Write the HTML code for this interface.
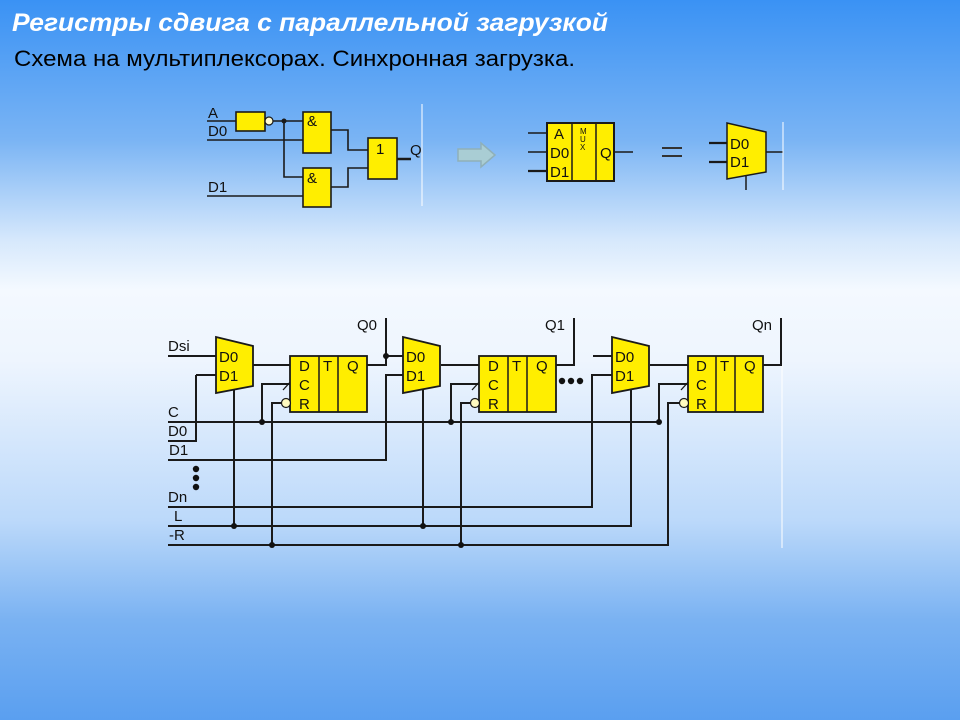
<!DOCTYPE html>
<html><head><meta charset="utf-8"><style>
body{margin:0;width:960px;height:720px;overflow:hidden;background:linear-gradient(to bottom,#3a92f4 0px,#7ab4f4 140px,#d6e8fc 240px,#f4f9ff 290px,#eef5fe 360px,#bcd9fa 520px,#7ab2f2 620px,#5a9ff0 720px);font-family:"Liberation Sans",sans-serif;}
svg{position:absolute;left:0;top:0}
</style></head><body>
<svg width="960" height="720" viewBox="0 0 960 720" font-family="Liberation Sans, sans-serif">
<text x="12" y="31" fill="#fff" font-size="25" font-weight="bold" font-style="italic" textLength="596" lengthAdjust="spacingAndGlyphs">Регистры сдвига с параллельной загрузкой</text>
<text x="14" y="66" fill="#000" font-size="22" textLength="561" lengthAdjust="spacingAndGlyphs">Схема на мультиплексорах. Синхронная загрузка.</text>

<g stroke="#1a1a1a" stroke-width="1.6" fill="none">
<path d="M207 121H236 M273 121H303 M284 121V177H303 M207 140H303 M207 196H303"/>
<path d="M331 130H348V150H368 M331 187H348V168H368"/>
<path d="M397 159H411" stroke-width="2.5"/>
</g>
<g fill="#ffee00" stroke="#1a1a1a" stroke-width="1.6">
<rect x="236" y="112" width="29" height="19"/>
<rect x="303" y="112" width="28" height="41"/>
<rect x="303" y="168" width="28" height="39"/>
<rect x="368" y="138" width="29" height="41"/>
</g>
<circle cx="269" cy="121" r="4" fill="#fffbd0" stroke="#1a1a1a" stroke-width="1.2"/>
<circle cx="284" cy="121" r="2.5" fill="#1a1a1a"/>
<g font-size="15" fill="#111">
<text x="208" y="118">A</text><text x="208" y="136">D0</text><text x="208" y="192">D1</text>
<text x="307" y="126">&amp;</text><text x="307" y="183">&amp;</text>
<text x="376" y="154">1</text><text x="410" y="155">Q</text>
</g>
<line x1="422" y1="104" x2="422" y2="206" stroke="#fff" stroke-width="1"/>

<path d="M458 149H481V143L495 155L481 167V161H458Z" fill="#a9cdd4" stroke="#8fb0b8" stroke-width="1.5"/>

<g stroke="#1a1a1a" stroke-width="1.5">
<path d="M528 133H547 M528 152H547 M614 152H633"/><path d="M528 171H547" stroke-width="2.2"/>
</g>
<rect x="547" y="123" width="67" height="58" fill="#ffee00" stroke="#1a1a1a" stroke-width="2"/>
<path d="M572 123V181 M596 123V181" stroke="#1a1a1a" stroke-width="1.5"/>
<g font-size="15" fill="#111">
<text x="554" y="139">A</text><text x="550" y="158">D0</text><text x="550" y="177">D1</text><text x="600" y="158">Q</text>
</g>
<g font-size="8" fill="#111"><text x="580" y="134">M</text><text x="580" y="142">U</text><text x="580" y="150">X</text></g>
<path d="M662 148H682 M662 156H682" stroke="#333" stroke-width="2"/>
<g stroke="#1a1a1a" stroke-width="1.5"><path d="M709 143H727 M709 162H727" stroke-width="2.2"/><path d="M766 152H783 M746 176V190"/></g>
<polygon points="727,123 766,132 766,172 727,179" fill="#ffee00" stroke="#1a1a1a" stroke-width="1.5"/>
<g font-size="15" fill="#111"><text x="730" y="149">D0</text><text x="730" y="167">D1</text></g>
<line x1="783" y1="122" x2="783" y2="190" stroke="#fff" stroke-width="1"/>

<line x1="782" y1="365" x2="782" y2="548" stroke="#fff" stroke-width="1"/>
<g stroke="#1a1a1a" stroke-width="2" fill="none">
<path d="M168 356H216 M196 375H216 M196 375V441H168"/>
<path d="M168 422H659 M168 460H386V375H403 M168 507H592V375H612 M168 526H631V390 M168 545H668V403H682"/>
<path d="M234 390V526 M423 390V526"/>
<path d="M262 422V384H290 M451 422V384H479 M659 422V384H688"/>
<path d="M272 545V403H282 M461 545V403H471"/>
<path d="M253 365H290 M441 365H479 M650 365H688"/>
<path d="M367 365H386V318 M386 356H403 M556 365H574V318 M763 365H781V318 M593 356H612"/>
<path d="M283 390L293 379 M472 390L482 379 M681 390L691 379" stroke-width="1.3"/>
</g>
<g fill="#ffee00" stroke="#1a1a1a" stroke-width="1.8">
<polygon points="216,337 253,346 253,386 216,393"/>
<polygon points="403,337 440,346 440,386 403,393"/>
<polygon points="612,337 649,346 649,386 612,393"/>
<rect x="290" y="356" width="77" height="56"/>
<rect x="479" y="356" width="77" height="56"/>
<rect x="688" y="356" width="75" height="56"/>
</g>
<path d="M319 356V412 M338 356V412 M508 356V412 M527 356V412 M716 356V412 M735 356V412" stroke="#1a1a1a" stroke-width="1.5"/>
<g fill="#fffbc0" stroke="#1a1a1a" stroke-width="1.2">
<circle cx="286" cy="403" r="4.5"/><circle cx="475" cy="403" r="4.5"/><circle cx="684" cy="403" r="4.5"/>
</g>
<g fill="#111">
<circle cx="386" cy="356" r="3"/><circle cx="262" cy="422" r="3"/><circle cx="451" cy="422" r="3"/><circle cx="659" cy="422" r="3"/>
<circle cx="234" cy="526" r="3"/><circle cx="423" cy="526" r="3"/><circle cx="272" cy="545" r="3"/><circle cx="461" cy="545" r="3"/>
<circle cx="196" cy="469" r="3.2"/><circle cx="196" cy="478" r="3.2"/><circle cx="196" cy="487" r="3.2"/>
<circle cx="562" cy="381" r="3.2"/><circle cx="571" cy="381" r="3.2"/><circle cx="580" cy="381" r="3.2"/>
</g>
<g font-size="15" fill="#111">
<text x="168" y="351">Dsi</text><text x="168" y="417">C</text><text x="168" y="436">D0</text><text x="169" y="455">D1</text>
<text x="168" y="502">Dn</text><text x="174" y="521">L</text><text x="169" y="540">-R</text>
<text x="357" y="330">Q0</text><text x="545" y="330">Q1</text><text x="752" y="330">Qn</text>
<text x="219" y="362">D0</text><text x="219" y="381">D1</text>
<text x="406" y="362">D0</text><text x="406" y="381">D1</text>
<text x="615" y="362">D0</text><text x="615" y="381">D1</text>
<text x="299" y="371">D</text><text x="299" y="390">C</text><text x="299" y="409">R</text><text x="323" y="371">T</text><text x="347" y="371">Q</text>
<text x="488" y="371">D</text><text x="488" y="390">C</text><text x="488" y="409">R</text><text x="512" y="371">T</text><text x="536" y="371">Q</text>
<text x="696" y="371">D</text><text x="696" y="390">C</text><text x="696" y="409">R</text><text x="720" y="371">T</text><text x="744" y="371">Q</text>
</g>
</svg>
</body></html>
